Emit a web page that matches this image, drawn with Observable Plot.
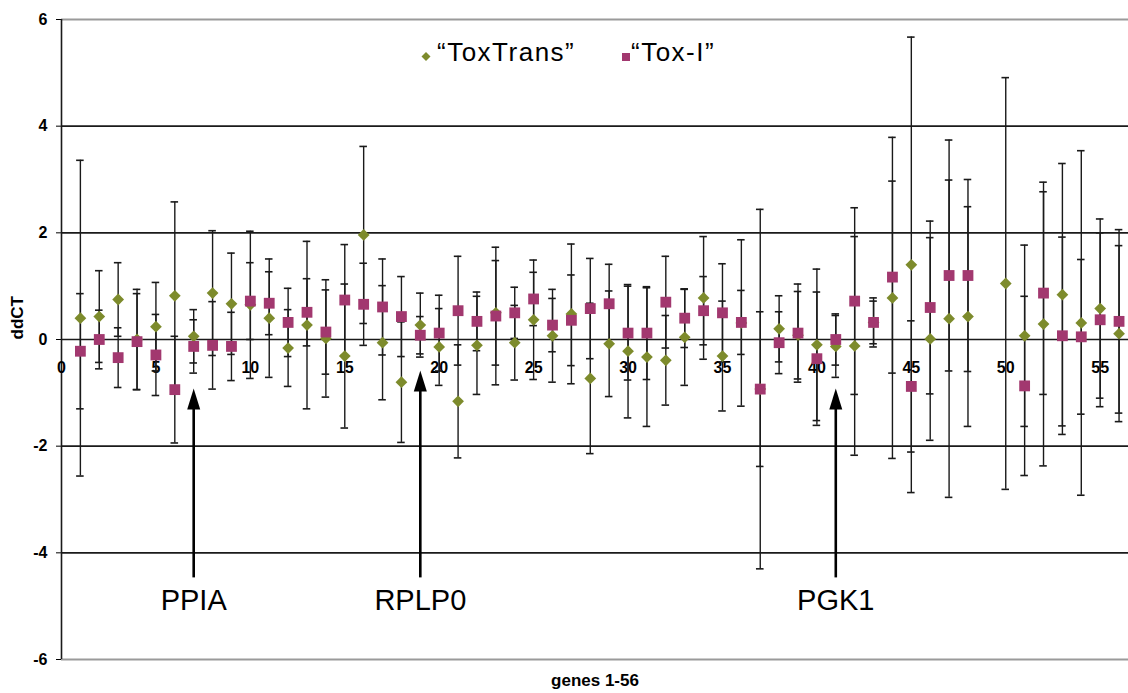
<!DOCTYPE html>
<html>
<head>
<meta charset="utf-8">
<script src="https://cdn.jsdelivr.net/npm/d3@7"></script>
<script src="https://cdn.jsdelivr.net/npm/@observablehq/plot@0.6"></script>
<style>
  html, body { margin: 0; padding: 0; background: #fff; }
  #wrap { position: relative; width: 1128px; height: 693px; font-family: "Liberation Sans", Arial, sans-serif; }
  #legend { position: absolute; left: 0; top: 0; pointer-events: none; }
</style>
</head>
<body>
<div id="wrap"></div>
<script>
// ---- data ----
const genes = d3.range(1, 57);
const toxTrans = [0.40, 0.43, 0.75, 0.00, 0.24, 0.82, 0.06, 0.87, 0.67, 0.65,
  0.40, -0.16, 0.27, 0.02, -0.31, 1.96, -0.06, -0.80, 0.27, -0.14,
  -1.16, -0.11, 0.50, -0.06, 0.37, 0.07, 0.48, -0.73, -0.08, -0.22,
  -0.33, -0.39, 0.04, 0.78, -0.31, 0.31, -0.93, 0.20, 0.08, -0.10,
  -0.13, -0.12, 0.32, 0.78, 1.40, 0.01, 0.39, 0.43, null, 1.05,
  0.07, 0.29, 0.84, 0.31, 0.58, 0.11];
const toxTransErr = [2.96, 0.86, 0.69, 0.94, 0.83, 1.76, 0.50, 1.17, 0.95, 1.38,
  1.11, 0.72, 1.57, 1.10, 1.35, 1.66, 1.07, 1.13, 0.60, 0.72,
  1.06, 0.92, 0.98, 0.70, 1.12, 0.87, 1.31, 1.41, 0.99, 1.25,
  1.30, 0.84, 0.90, 1.15, 1.03, 1.56, 1.45, 0.62, 0.82, 1.42,
  0.58, 2.05, 0.40, 3.01, 4.27, 1.90, 3.35, 2.06, null, 3.86,
  1.70, 2.66, 2.46, 3.23, 1.68, 1.65];
const toxI = [-0.22, 0.00, -0.34, -0.04, -0.29, -0.94, -0.13, -0.11, -0.13, 0.72,
  0.68, 0.32, 0.51, 0.14, 0.74, 0.66, 0.61, 0.43, 0.08, 0.12,
  0.54, 0.34, 0.44, 0.50, 0.76, 0.27, 0.36, 0.58, 0.67, 0.12,
  0.12, 0.70, 0.40, 0.54, 0.50, 0.32, -0.93, -0.06, 0.12, -0.36,
  0.00, 0.72, 0.32, 1.17, -0.88, 0.60, 1.20, 1.20, null, null,
  -0.87, 0.87, 0.07, 0.05, 0.37, 0.34];
const toxIErr = [1.08, 0.55, 0.56, 0.90, 0.76, 1.00, 0.50, 0.82, 0.64, 0.72,
  0.59, 0.64, 0.63, 0.79, 1.04, 0.77, 0.90, 0.75, 0.35, 0.71,
  1.02, 0.55, 1.29, 0.48, 0.50, 0.50, 0.85, 0.94, 0.74, 0.88,
  0.87, 0.86, 0.55, 0.64, 0.92, 0.60, 3.37, 0.58, 0.92, 1.25,
  0.48, 1.75, 0.46, 1.80, 1.23, 1.62, 1.79, 1.80, null, null,
  1.68, 1.90, 1.85, 1.45, 1.63, 1.72];
const seriesNames = ["\u201CToxTrans\u201D", "\u201CTox-I\u201D"];
const seriesColors = ["#7d8b2c", "#a2386f"];
const yTicks = [-6, -4, -2, 0, 2, 4, 6];
const xTicks = [0, 5, 10, 15, 20, 25, 30, 35, 40, 45, 50, 55];
const annotations = [
  {gene: 7, label: "PPIA", tip: -0.92},
  {gene: 19, label: "RPLP0", tip: -0.58},
  {gene: 41, label: "PGK1", tip: -0.92}
];
const yTitle = "ddCT";
const xTitle = "genes 1-56";

// ---- tidy table ----
const rows = [];
genes.forEach((g, i) => {
  if (toxTrans[i] != null) rows.push({gene: g, series: seriesNames[0], value: toxTrans[i], err: toxTransErr[i]});
  if (toxI[i] != null) rows.push({gene: g, series: seriesNames[1], value: toxI[i], err: toxIErr[i]});
});
const ttRows = rows.filter(d => d.series === seriesNames[0]);
const tiRows = rows.filter(d => d.series === seriesNames[1]);

const FONT = "'Liberation Sans', Arial, sans-serif";
const capHalf = 0.2;
const arrowHead = {
  draw(ctx) {
    ctx.moveTo(0, 0);
    ctx.lineTo(6.5, 21);
    ctx.lineTo(-6.5, 21);
    ctx.closePath();
  }
};

const chart = Plot.plot({
  width: 1128,
  height: 693,
  marginTop: 19,
  marginBottom: 34,
  marginLeft: 61,
  marginRight: 0,
  style: {fontFamily: FONT, fontSize: "16px", fontWeight: "bold", background: "#fff", color: "#000", overflow: "visible"},
  x: {domain: [0, 56.5], axis: null},
  y: {domain: [-6, 6], ticks: yTicks, tickSize: 5, tickPadding: 9, tickFormat: d => String(d), label: null},
  marks: [
    // gridlines
    Plot.ruleY(yTicks, {y: d => d, stroke: d => (Math.abs(d) === 6 ? "#9a9a9a" : "#1a1a1a"), strokeWidth: d => (Math.abs(d) === 6 ? 2 : 1.6)}),
    Plot.ruleX([0], {x: d => d, stroke: "#1a1a1a", strokeWidth: 1.6}),
    // x tick labels next to the zero line
    Plot.text(xTicks, {x: d => d, y: 0, dy: 28, text: d => String(d), fontWeight: "bold", fontSize: 16, fill: "#000"}),
    // axis titles
    Plot.text([yTitle], {frameAnchor: "left", rotate: -90, dx: -44, text: d => d, fontWeight: "bold", fontSize: 17, fill: "#000"}),
    Plot.text([xTitle], {frameAnchor: "bottom", dy: 26, text: d => d, fontWeight: "bold", fontSize: 17, fill: "#000"}),
    // error bars
    Plot.ruleX(rows, {x: "gene", y1: d => d.value - d.err, y2: d => d.value + d.err, stroke: "#1a1a1a", strokeWidth: 1.4}),
    Plot.ruleY(rows, {x1: d => d.gene - capHalf, x2: d => d.gene + capHalf, y: d => d.value + d.err, stroke: "#1a1a1a", strokeWidth: 1.6}),
    Plot.ruleY(rows, {x1: d => d.gene - capHalf, x2: d => d.gene + capHalf, y: d => d.value - d.err, stroke: "#1a1a1a", strokeWidth: 1.6}),
    // markers
    Plot.dot(ttRows, {x: "gene", y: "value", symbol: "diamond2", r: 5.3, fill: seriesColors[0], stroke: "none"}),
    Plot.dot(tiRows, {x: "gene", y: "value", symbol: "square", r: 6.1, fill: seriesColors[1], stroke: "none"}),
    // annotations: arrows and labels
    Plot.ruleX(annotations, {x: "gene", y1: -4.47, y2: d => d.tip - 0.3, stroke: "#000", strokeWidth: 2.6}),
    Plot.dot(annotations, {x: "gene", y: "tip", symbol: arrowHead, fill: "#000", stroke: "none"}),
    Plot.text(annotations, {x: "gene", y: -4.89, text: "label", fontSize: 29, fontWeight: "normal", fill: "#000"})
  ]
});

const wrap = document.getElementById("wrap");
wrap.appendChild(chart);

// legend overlay
const ns = "http://www.w3.org/2000/svg";
const leg = document.createElementNS(ns, "svg");
leg.setAttribute("id", "legend");
leg.setAttribute("width", 1128);
leg.setAttribute("height", 90);
const legendItems = [
  {name: seriesNames[0], color: seriesColors[0], shape: "diamond", mx: 426, tx: 437},
  {name: seriesNames[1], color: seriesColors[1], shape: "square", mx: 626, tx: 631}
];
legendItems.forEach(it => {
  if (it.shape === "diamond") {
    const p = document.createElementNS(ns, "path");
    p.setAttribute("d", `M${it.mx},52 L${it.mx + 4.5},56.5 L${it.mx},61 L${it.mx - 4.5},56.5 Z`);
    p.setAttribute("fill", it.color);
    leg.appendChild(p);
  } else {
    const r = document.createElementNS(ns, "rect");
    r.setAttribute("x", it.mx - 4);
    r.setAttribute("y", 53);
    r.setAttribute("width", 8);
    r.setAttribute("height", 8);
    r.setAttribute("fill", it.color);
    leg.appendChild(r);
  }
  const t = document.createElementNS(ns, "text");
  t.setAttribute("x", it.tx);
  t.setAttribute("y", 61);
  t.setAttribute("font-family", FONT);
  t.setAttribute("font-size", 26);
  t.setAttribute("letter-spacing", "1.5");
  t.setAttribute("fill", "#000");
  t.textContent = it.name;
  leg.appendChild(t);
});
wrap.appendChild(leg);
</script>
</body>
</html>
